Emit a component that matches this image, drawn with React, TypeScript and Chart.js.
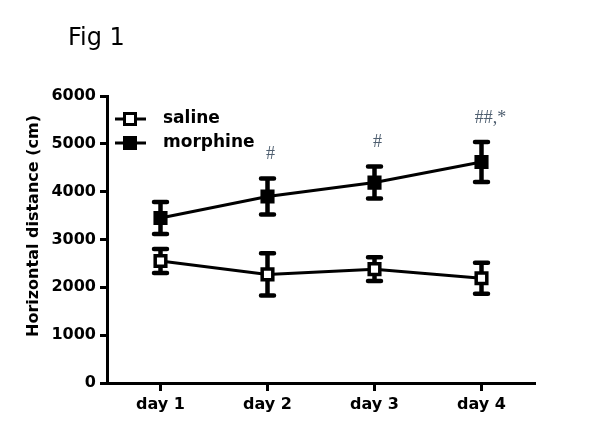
import React, { useEffect, useRef } from "react";
import { Chart, registerables } from "chart.js";

Chart.register(...registerables);

const categories = ["day 1", "day 2", "day 3", "day 4"];
const salineMean = [2550, 2270, 2380, 2190];
const salineErr = [250, 440, 250, 325];
const morphineMean = [3450, 3900, 4190, 4620];
const morphineErr = [335, 375, 335, 420];
const significance = ["", "#", "#", "##,*"];
const yMin = 0;
const yMax = 6000;
const yStep = 1000;
const chartTitle = "Fig 1";
const yTitle = "Horizontal distance (cm)";
const seriesNames = ["saline", "morphine"];

const FONT = "'DejaVu Sans', sans-serif";

const errorBarPlugin = {
  id: "errorBars",
  beforeDatasetsDraw(chart: any) {
    const { ctx, scales } = chart;
    const xs = scales.x;
    const ys = scales.y;
    const sets = [
      { mean: salineMean, err: salineErr },
      { mean: morphineMean, err: morphineErr },
    ];
    ctx.save();
    ctx.strokeStyle = "#000";
    ctx.lineCap = "butt";
    sets.forEach((s) => {
      s.mean.forEach((m, i) => {
        const x = xs.getPixelForValue(i);
        const yTop = ys.getPixelForValue(m + s.err[i]);
        const yBot = ys.getPixelForValue(m - s.err[i]);
        ctx.lineWidth = 4.5;
        ctx.beginPath();
        ctx.moveTo(x, yTop);
        ctx.lineTo(x, yBot);
        ctx.stroke();
        ctx.lineWidth = 4.5;
        ctx.lineCap = "round";
        ctx.beginPath();
        ctx.moveTo(x - 6.5, yTop);
        ctx.lineTo(x + 6.5, yTop);
        ctx.moveTo(x - 6.5, yBot);
        ctx.lineTo(x + 6.5, yBot);
        ctx.stroke();
        ctx.lineCap = "butt";
      });
    });
    ctx.restore();
  },
};

const decorPlugin = {
  id: "decor",
  afterDraw(chart: any) {
    const { ctx, scales } = chart;
    const xs = scales.x;
    const ys = scales.y;
    ctx.save();
    // Title
    ctx.fillStyle = "#000";
    ctx.font = `24px ${FONT}`;
    ctx.textAlign = "left";
    ctx.textBaseline = "alphabetic";
    ctx.fillText(chartTitle, 68, 45);

    // Y axis title
    ctx.save();
    ctx.translate(34, 226);
    ctx.rotate(-Math.PI / 2);
    ctx.font = `bold 16px ${FONT}`;
    ctx.textAlign = "center";
    ctx.textBaseline = "middle";
    ctx.fillText(yTitle, 0, 0);
    ctx.restore();

    // Legend
    const legendY = [119, 143];
    seriesNames.forEach((name, i) => {
      const y = legendY[i];
      ctx.strokeStyle = "#000";
      ctx.lineWidth = 3;
      ctx.beginPath();
      ctx.moveTo(115, y);
      ctx.lineTo(146, y);
      ctx.stroke();
      ctx.lineWidth = 3;
      ctx.fillStyle = i === 0 ? "#fff" : "#000";
      ctx.fillRect(124.5, y - 5.5, 11, 11);
      ctx.strokeRect(124.5, y - 5.5, 11, 11);
      ctx.fillStyle = "#000";
      ctx.font = `bold 17px ${FONT}`;
      ctx.textAlign = "left";
      ctx.textBaseline = "middle";
      ctx.fillText(name, 163, y);
    });

    // Significance marks
    ctx.fillStyle = "#4f5f70";
    ctx.font = `18px 'Liberation Serif', serif`;
    ctx.textAlign = "center";
    ctx.textBaseline = "middle";
    significance.forEach((s, i) => {
      if (!s) return;
      const x = xs.getPixelForValue(i) + (s.length > 1 ? 9 : 3);
      const y = ys.getPixelForValue(morphineMean[i] + morphineErr[i]) - 24;
      ctx.fillText(s, x, y);
    });
    ctx.restore();
  },
};

export default function App() {
  const ref = useRef<HTMLCanvasElement>(null);
  useEffect(() => {
    if (!ref.current) return;
    const chart = new Chart(ref.current, {
      type: "line",
      data: {
        labels: categories,
        datasets: [
          {
            label: seriesNames[0],
            data: salineMean,
            borderColor: "#000",
            borderWidth: 3,
            pointStyle: "rect",
            pointRadius: 7.5,
            pointBorderWidth: 3.5,
            pointBackgroundColor: "#fff",
            pointBorderColor: "#000",
            fill: false,
            tension: 0,
          },
          {
            label: seriesNames[1],
            data: morphineMean,
            borderColor: "#000",
            borderWidth: 3,
            pointStyle: "rect",
            pointRadius: 7.5,
            pointBorderWidth: 3.5,
            pointBackgroundColor: "#000",
            pointBorderColor: "#000",
            fill: false,
            tension: 0,
          },
        ],
      },
      options: {
        animation: false,
        responsive: false,
        events: [],
        layout: { padding: { top: 96, right: 65, left: 0, bottom: 0 } },
        plugins: {
          legend: { display: false },
          title: { display: false },
          tooltip: { enabled: false },
        },
        scales: {
          x: {
            type: "category",
            offset: true,
            grid: {
              display: true,
              offset: false,
              drawOnChartArea: false,
              drawTicks: true,
              tickLength: 8,
              tickWidth: 3,
              tickColor: "#000",
            },
            border: { display: true, width: 3, color: "#000" },
            ticks: {
              color: "#000",
              font: { family: FONT, size: 16, weight: "bold" },
              padding: 4,
              maxRotation: 0,
            },
            afterFit(scale: any) {
              scale.height = 53;
            },
          },
          y: {
            min: yMin,
            max: yMax,
            grid: {
              display: true,
              drawOnChartArea: false,
              drawTicks: true,
              tickLength: 7,
              tickWidth: 3,
              tickColor: "#000",
            },
            border: { display: true, width: 3, color: "#000" },
            ticks: {
              stepSize: yStep,
              color: "#000",
              font: { family: FONT, size: 16, weight: "bold" },
              padding: 4,
              callback: (v: any) => String(v),
            },
            afterFit(scale: any) {
              scale.width = 107;
            },
          },
        },
      },
      plugins: [errorBarPlugin, decorPlugin],
    } as any);
    return () => chart.destroy();
  }, []);
  return (
    <div style={{ position: "absolute", left: 0, top: 0, width: 600, height: 436, background: "#fff" }}>
      <canvas ref={ref} width={600} height={436} style={{ display: "block" }} />
    </div>
  );
}
